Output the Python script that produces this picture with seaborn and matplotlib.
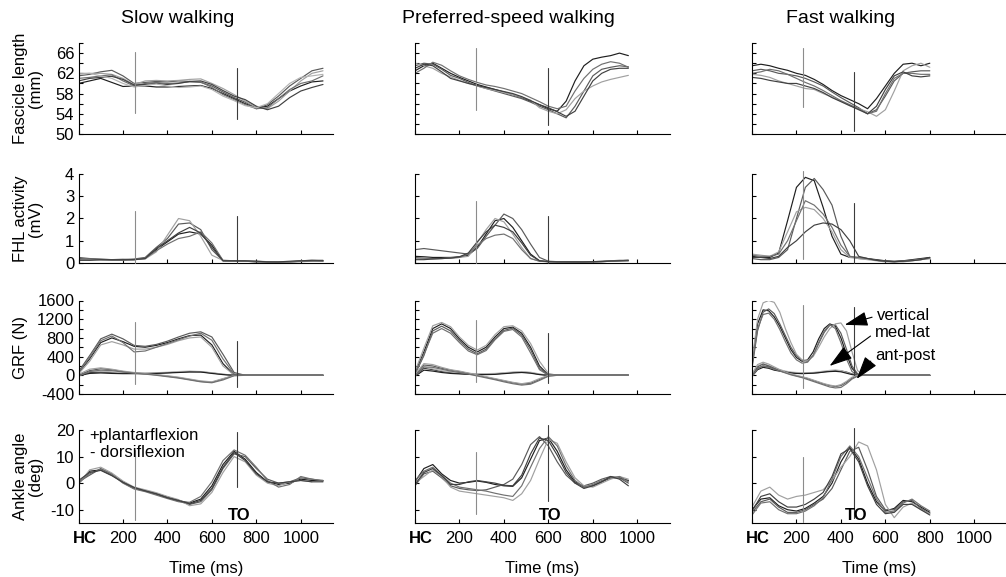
import numpy as np
import pandas as pd
import matplotlib
matplotlib.use("Agg")
import matplotlib.pyplot as plt
from matplotlib.transforms import ScaledTranslation
import seaborn as sns

# ---------------- data ----------------
titles = ["Slow walking", "Preferred-speed walking", "Fast walking"]
row_labels = ["Fascicle length\n(mm)", "FHL activity\n(mV)", "GRF (N)", "Ankle angle\n(deg)"]

x_ticks = [0, 200, 400, 600, 800, 1000]
x_ticklabels = ["HC", "200", "400", "600", "800", "1000"]
y_limits = [(50, 68), (0, 4), (-400, 1600), (-15, 20)]
y_ticks = [[50, 52, 54, 56, 58, 60, 62, 64, 66, 68],
           [0, 1, 2, 3, 4],
           [-400, -200, 0, 200, 400, 600, 800, 1000, 1200, 1400, 1600],
           [-10, 0, 10, 20]]
y_ticklabels = [["50", "", "54", "", "58", "", "62", "", "66", ""],
                ["0", "1", "2", "3", "4"],
                ["-400", "", "0", "", "400", "", "800", "", "1200", "", "1600"],
                ["-10", "0", "10", "20"]]

# gait events (ms): [first line, toe-off]
events = [[252, 714], [274, 597], [230, 460]]
# vertical extents of event lines, per column, per row: [(lo1,hi1),(lo2,hi2)]
event_spans = [
    [[(54.1, 66.2), (52.9, 63.0)], [(0, 2.35), (0, 2.1)], [(-190, 1130), (-240, 740)], [(-13.8, 12.3), (-1.5, 19.4)]],
    [[(54.8, 67.0), (51.8, 63.0)], [(0, 2.8), (0, 2.1)], [(-135, 1185), (-170, 900)], [(-11.8, 11.7), (-6.6, 21.9)]],
    [[(55.4, 67.0), (50.5, 62.2)], [(0.2, 4.15), (0, 2.7)], [(-280, 1500), (0, 1470)], [(-14.8, 10.0), (-13.2, 20.6)]],
]

# ----- slow walking -----
t_slow = [0, 50, 100, 150, 200, 250, 300, 350, 400, 450, 500, 550, 600, 650, 700, 750, 800, 850, 900, 950, 1000, 1050, 1100]
slow_fascicle = [
    [60.0, 60.5, 61.0, 60.2, 59.4, 59.5, 59.5, 59.3, 59.3, 59.4, 59.5, 59.6, 59.0, 58.0, 57.0, 56.0, 55.2, 55.5, 57.0, 58.5, 59.5, 60.3, 60.5],
    [61.5, 61.8, 62.3, 62.6, 61.5, 60.0, 60.2, 60.4, 60.3, 60.5, 60.4, 60.2, 59.5, 58.3, 57.2, 56.3, 55.0, 55.8, 57.5, 59.5, 61.0, 62.5, 63.0],
    [62.0, 62.0, 62.0, 61.8, 61.0, 59.8, 60.5, 60.6, 60.5, 60.6, 60.8, 60.9, 60.0, 59.0, 57.8, 56.5, 55.3, 55.0, 56.5, 58.5, 60.5, 62.0, 62.5],
    [61.0, 61.2, 61.5, 61.7, 60.5, 59.5, 60.0, 60.2, 60.0, 60.1, 60.3, 60.3, 59.2, 57.8, 56.8, 55.8, 55.0, 55.2, 57.0, 58.8, 60.0, 60.5, 61.5],
    [60.5, 61.0, 61.2, 61.4, 60.8, 59.7, 59.8, 60.0, 59.8, 60.0, 60.4, 60.5, 59.8, 58.6, 57.5, 56.8, 55.5, 54.8, 55.5, 57.2, 58.5, 59.2, 59.8],
    [61.8, 62.0, 61.5, 61.0, 60.0, 59.3, 59.6, 59.9, 59.5, 59.2, 59.3, 59.5, 58.8, 57.5, 56.6, 55.6, 55.2, 56.0, 58.0, 60.0, 61.2, 61.5, 61.8],
]
slow_fhl = [
    [0.20, 0.15, 0.15, 0.15, 0.15, 0.15, 0.20, 0.60, 0.95, 1.30, 1.40, 1.30, 0.80, 0.10, 0.10, 0.08, 0.05, 0.05, 0.05, 0.05, 0.08, 0.10, 0.08],
    [0.25, 0.20, 0.18, 0.15, 0.15, 0.18, 0.25, 0.70, 1.10, 1.75, 1.80, 1.50, 0.60, 0.10, 0.08, 0.08, 0.08, 0.06, 0.05, 0.06, 0.10, 0.12, 0.10],
    [0.15, 0.15, 0.15, 0.15, 0.18, 0.15, 0.18, 0.50, 1.25, 2.00, 1.90, 1.20, 0.35, 0.12, 0.10, 0.10, 0.06, 0.05, 0.06, 0.05, 0.08, 0.10, 0.10],
    [0.18, 0.18, 0.15, 0.12, 0.12, 0.15, 0.22, 0.55, 0.85, 1.10, 1.20, 1.40, 0.90, 0.12, 0.10, 0.08, 0.06, 0.05, 0.04, 0.05, 0.06, 0.08, 0.10],
    [0.12, 0.12, 0.15, 0.15, 0.15, 0.15, 0.20, 0.65, 1.00, 1.35, 1.60, 1.35, 0.70, 0.10, 0.10, 0.10, 0.08, 0.05, 0.05, 0.08, 0.10, 0.12, 0.12],
]
slow_grf_vertical = [
    [50, 350, 700, 800, 720, 620, 600, 640, 700, 780, 850, 860, 650, 250, 10, 0, 0, 0, 0, 0, 0, 0, 0],
    [80, 420, 780, 880, 780, 640, 620, 660, 730, 820, 900, 930, 820, 450, 60, 0, 0, 0, 0, 0, 0, 0, 0],
    [30, 300, 650, 720, 650, 560, 560, 600, 660, 740, 800, 820, 600, 200, 5, 0, 0, 0, 0, 0, 0, 0, 0],
    [60, 380, 740, 840, 700, 500, 520, 600, 680, 760, 840, 900, 750, 350, 30, 0, 0, 0, 0, 0, 0, 0, 0],
]
slow_grf_medlat = [
    [0, 60, 70, 60, 50, 45, 40, 45, 55, 70, 80, 75, 50, 20, 0, 0, 0, 0, 0, 0, 0, 0, 0],
    [10, 80, 90, 70, 55, 50, 50, 55, 65, 80, 90, 80, 55, 25, 0, 0, 0, 0, 0, 0, 0, 0, 0],
    [-10, 40, 50, 40, 35, 35, 35, 40, 50, 60, 70, 70, 40, 15, 0, 0, 0, 0, 0, 0, 0, 0, 0],
]
slow_grf_antpost = [
    [0, 100, 140, 120, 80, 50, 30, 10, -20, -50, -90, -130, -150, -80, 0, 0, 0, 0, 0, 0, 0, 0, 0],
    [20, 130, 160, 130, 90, 60, 35, 15, -10, -40, -80, -120, -140, -70, -5, 0, 0, 0, 0, 0, 0, 0, 0],
    [-20, 80, 110, 100, 70, 45, 25, 0, -30, -60, -100, -140, -160, -100, -10, 0, 0, 0, 0, 0, 0, 0, 0],
]
slow_ankle = [
    [0.0, 4.5, 5.0, 3.0, 0.5, -1.8, -2.8, -4.0, -5.2, -6.5, -7.5, -6.0, -1.0, 7.0, 12.0, 9.0, 4.0, 0.5, -0.5, 0.0, 1.5, 1.0, 1.0],
    [0.5, 3.0, 5.5, 3.5, 0.2, -2.0, -3.0, -4.2, -5.5, -6.8, -8.0, -7.0, -2.5, 5.5, 11.0, 10.0, 5.5, 1.5, 0.0, 0.5, 2.0, 1.5, 0.8],
    [-0.5, 5.0, 6.0, 3.8, 0.8, -1.5, -2.5, -3.6, -5.0, -6.2, -8.5, -7.8, -3.5, 4.0, 10.0, 8.0, 3.0, 0.0, -1.0, 0.5, 1.0, 0.5, np.nan],
    [0.0, 3.5, 5.2, 3.2, 0.0, -2.2, -3.2, -4.5, -5.8, -7.0, -7.2, -5.0, 0.5, 8.5, 12.5, 10.5, 6.0, 1.0, -1.5, -0.5, 2.5, 1.5, 1.0],
    [1.0, 4.0, 4.8, 2.8, 0.3, -1.6, -2.9, -4.0, -5.5, -6.5, -7.8, -6.5, -2.0, 6.0, 11.5, 8.5, 3.5, 0.5, 0.0, 0.5, 1.0, 0.5, 0.5],
]

# ----- preferred-speed walking -----
t_pref = [0, 40, 80, 120, 160, 200, 240, 280, 320, 360, 400, 440, 480, 520, 560, 600, 640, 680, 720, 760, 800, 840, 880, 920, 960]
pref_fascicle = [
    [62.5, 63.5, 64.0, 63.0, 62.0, 61.2, 60.5, 59.8, 59.3, 58.8, 58.3, 57.8, 57.2, 56.5, 55.8, 55.0, 54.5, 56.5, 60.5, 63.5, 64.8, 65.2, 65.5, 66.0, 65.5],
    [63.5, 64.0, 63.8, 62.8, 61.6, 61.0, 60.2, 59.5, 59.0, 58.5, 58.0, 57.5, 57.0, 56.3, 55.5, 54.8, 54.0, 53.2, 55.5, 58.5, 61.5, 62.8, 63.2, 63.5, 63.3],
    [64.0, 63.5, 63.0, 62.0, 61.3, 60.6, 60.0, 59.5, 59.0, 58.6, 58.2, 57.8, 57.3, 56.7, 55.2, 54.5, 54.0, 54.8, 57.0, 58.5, 59.5, 60.3, 60.8, 61.2, 61.6],
    [62.0, 63.0, 64.2, 63.6, 62.5, 61.5, 60.8, 60.2, 59.7, 59.4, 59.0, 58.5, 58.0, 57.2, 56.4, 55.5, 55.0, 55.5, 58.5, 61.0, 62.8, 63.8, 64.3, 64.0, 63.2],
    [63.0, 63.8, 63.5, 62.3, 61.0, 60.5, 60.0, 59.6, 59.2, 58.8, 58.4, 58.0, 57.4, 56.6, 55.8, 55.2, 54.4, 53.5, 54.5, 57.5, 60.5, 62.0, 62.8, 63.0, 63.0],
]
pref_fhl = [
    [0.30, 0.28, 0.25, 0.25, 0.25, 0.28, 0.35, 0.70, 1.30, 1.90, 2.00, 1.60, 1.00, 0.40, 0.10, 0.06, 0.06, 0.05, 0.05, 0.04, 0.05, 0.06, 0.08, 0.10, 0.12],
    [0.60, 0.65, 0.60, 0.55, 0.50, 0.45, 0.40, 0.65, 1.20, 1.70, 2.20, 2.00, 1.50, 0.85, 0.25, 0.08, 0.06, 0.05, 0.05, 0.05, 0.06, 0.08, 0.10, 0.12, 0.12],
    [0.20, 0.20, 0.18, 0.20, 0.22, 0.25, 0.30, 0.90, 1.50, 2.00, 1.85, 1.30, 0.70, 0.20, 0.08, 0.05, 0.05, 0.04, 0.04, 0.04, 0.05, 0.06, 0.08, 0.10, 0.10],
    [0.25, 0.22, 0.20, 0.20, 0.22, 0.25, 0.40, 0.80, 1.10, 1.25, 1.30, 1.10, 0.60, 0.20, 0.08, 0.06, 0.05, 0.05, 0.04, 0.04, 0.05, 0.06, 0.08, 0.10, 0.12],
    [0.15, 0.15, 0.18, 0.20, 0.22, 0.28, 0.45, 0.95, 1.40, 1.70, 1.60, 1.40, 0.90, 0.35, 0.10, 0.06, 0.05, 0.05, 0.05, 0.05, 0.06, 0.07, 0.09, 0.10, 0.10],
]
pref_grf_vertical = [
    [50, 500, 1000, 1100, 1000, 780, 600, 500, 600, 820, 1000, 1030, 900, 600, 200, 10, 0, 0, 0, 0, 0, 0, 0, 0, 0],
    [20, 420, 950, 1050, 950, 740, 560, 460, 560, 780, 960, 1010, 860, 550, 150, 0, 0, 0, 0, 0, 0, 0, 0, 0, 0],
    [80, 580, 1060, 1130, 1040, 820, 640, 540, 640, 870, 1040, 1060, 950, 680, 300, 40, 0, 0, 0, 0, 0, 0, 0, 0, 0],
    [30, 450, 900, 1000, 900, 700, 520, 440, 530, 760, 940, 980, 820, 480, 120, 0, 0, 0, 0, 0, 0, 0, 0, 0, 0],
]
pref_grf_medlat = [
    [0, 150, 120, 80, 60, 40, 30, 25, 25, 30, 45, 60, 70, 55, 20, 0, 0, 0, 0, 0, 0, 0, 0, 0, 0],
    [20, 180, 140, 100, 70, 50, 40, 35, 35, 40, 55, 70, 80, 65, 30, 0, 0, 0, 0, 0, 0, 0, 0, 0, 0],
    [-20, 110, 90, 60, 40, 30, 20, 15, 15, 20, 35, 50, 60, 45, 15, 0, 0, 0, 0, 0, 0, 0, 0, 0, 0],
]
pref_grf_antpost = [
    [0, 220, 200, 150, 110, 80, 40, 0, -40, -80, -120, -160, -190, -170, -90, -10, 0, 0, 0, 0, 0, 0, 0, 0, 0],
    [20, 250, 230, 170, 120, 90, 50, 10, -30, -70, -110, -150, -180, -150, -70, 0, 0, 0, 0, 0, 0, 0, 0, 0, 0],
    [-20, 180, 170, 130, 90, 60, 25, -15, -55, -95, -140, -180, -210, -190, -110, -20, 0, 0, 0, 0, 0, 0, 0, 0, 0],
]
pref_ankle = [
    [0.5, 5.5, 7.0, 3.5, 1.0, 0.0, 0.3, 0.8, 0.3, -0.5, -1.0, -1.2, 2.0, 9.0, 16.0, 17.0, 12.0, 5.0, 0.5, -1.5, -1.0, 0.5, 2.0, 2.0, 1.0],
    [-1.0, 3.5, 4.5, 2.0, -1.0, -2.0, -2.5, -2.8, -2.5, -1.5, -0.5, 1.5, 7.0, 14.5, 17.5, 14.0, 8.0, 3.0, 0.0, -1.0, 0.0, 1.5, 2.5, 2.0, 0.0],
    [0.0, 2.5, 5.0, 2.5, -1.5, -3.0, -3.5, -4.0, -4.5, -5.0, -5.5, -6.5, -4.0, 1.0, 9.0, 16.5, 15.0, 8.0, 2.0, -1.0, -1.5, 0.0, 1.5, 2.5, 1.5],
    [1.0, 4.5, 6.0, 3.0, 0.0, -1.5, -2.0, -2.5, -3.0, -3.8, -4.5, -5.0, -1.0, 6.0, 13.0, 17.5, 14.0, 6.5, 1.0, -1.5, -0.5, 1.0, 2.0, 2.5, 0.5],
    [-0.5, 4.0, 5.5, 2.8, -0.5, -0.5, 0.5, 1.0, 0.5, 0.0, -0.8, -1.0, 3.0, 11.0, 17.0, 16.0, 10.5, 4.0, 0.0, -2.0, -1.0, 0.5, 2.5, 1.5, -1.0],
]

# ----- fast walking -----
t_fast = [0, 40, 80, 120, 160, 200, 240, 280, 320, 360, 400, 440, 480, 520, 560, 600, 640, 680, 720, 760, 800]
t_fast_grf = [0, 25, 50, 75, 100, 125, 150, 175, 200, 225, 250, 275, 300, 325, 350, 375, 400, 425, 450, 475, 500,
              550, 600, 650, 700, 750, 800]
fast_fascicle = [
    [63.5, 63.8, 63.5, 63.0, 62.6, 62.0, 61.6, 60.8, 59.8, 58.6, 57.6, 56.8, 56.0, 55.0, 57.0, 59.5, 62.0, 63.8, 64.0, 63.5, 64.0],
    [62.5, 62.8, 62.5, 62.0, 61.8, 61.5, 61.0, 60.3, 59.5, 58.3, 57.2, 56.2, 55.2, 54.0, 54.8, 57.5, 60.5, 62.0, 62.3, 62.5, 62.5],
    [61.8, 61.6, 61.2, 60.5, 60.0, 59.5, 59.0, 58.8, 58.0, 57.3, 56.5, 55.6, 55.0, 54.4, 53.5, 54.8, 58.5, 62.5, 63.5, 64.0, 63.2],
    [62.0, 62.3, 62.8, 62.5, 61.8, 61.0, 60.2, 59.5, 58.6, 57.6, 56.6, 55.8, 55.0, 54.0, 54.5, 58.0, 61.0, 62.0, 62.0, 61.8, 61.8],
    [61.2, 61.0, 60.6, 60.3, 60.0, 60.0, 59.5, 59.0, 58.2, 57.2, 56.4, 55.6, 54.8, 54.0, 55.5, 58.8, 61.5, 62.3, 61.5, 61.3, 61.5],
]
fast_fhl = [
    [0.30, 0.25, 0.25, 0.45, 1.90, 3.40, 3.85, 3.70, 2.50, 1.20, 0.40, 0.25, 0.25, 0.20, 0.15, 0.10, 0.08, 0.10, 0.15, 0.20, 0.25],
    [0.20, 0.15, 0.15, 0.25, 0.60, 2.00, 3.40, 3.80, 3.30, 2.60, 1.20, 0.30, 0.20, 0.18, 0.12, 0.08, 0.05, 0.10, 0.12, 0.18, 0.20],
    [0.40, 0.35, 0.30, 0.50, 1.40, 2.30, 2.50, 2.40, 2.00, 1.40, 0.60, 0.25, 0.20, 0.15, 0.10, 0.05, 0.05, 0.05, 0.10, 0.15, 0.20],
    [0.35, 0.30, 0.30, 0.40, 1.00, 1.90, 2.80, 2.60, 2.20, 1.60, 0.80, 0.30, 0.25, 0.20, 0.12, 0.08, 0.06, 0.08, 0.12, 0.15, 0.22],
    [0.25, 0.25, 0.20, 0.30, 0.70, 1.00, 1.40, 1.70, 1.80, 1.75, 1.50, 1.00, 0.30, 0.20, 0.12, 0.08, 0.06, 0.08, 0.10, 0.15, 0.25],
]
fast_grf_vertical = [
    [250, 1100, 1400, 1380, 1250, 1050, 800, 550, 380, 300, 330, 500, 780, 1000, 1100, 1050, 800, 450, 150, 20, 0, 0, 0, 0, 0, 0, 0],
    [150, 950, 1350, 1420, 1320, 1100, 850, 600, 420, 320, 300, 420, 680, 920, 1070, 1080, 900, 560, 200, 30, 0, 0, 0, 0, 0, 0, 0],
    [300, 1200, 1550, 1600, 1560, 1350, 1000, 700, 450, 330, 320, 400, 600, 820, 1000, 1100, 1120, 950, 500, 100, 10, 0, 0, 0, 0, 0, 0],
    [200, 1000, 1300, 1330, 1200, 980, 720, 480, 330, 260, 280, 430, 700, 950, 1080, 1000, 700, 350, 80, 10, 0, 0, 0, 0, 0, 0, 0],
]
fast_grf_medlat = [
    [0, 150, 200, 180, 140, 110, 80, 60, 50, 45, 45, 50, 60, 75, 90, 100, 95, 70, 30, 5, 0, 0, 0, 0, 0, 0, 0],
    [20, 200, 250, 210, 160, 120, 90, 70, 60, 55, 55, 60, 75, 90, 105, 115, 100, 60, 20, 0, 0, 0, 0, 0, 0, 0, 0],
    [-20, 120, 170, 150, 110, 90, 70, 50, 40, 35, 40, 45, 55, 70, 80, 85, 75, 45, 15, 0, 0, 0, 0, 0, 0, 0, 0],
]
fast_grf_antpost = [
    [0, 180, 240, 200, 150, 100, 60, 20, -10, -40, -70, -110, -150, -190, -220, -240, -220, -150, -60, -10, 0, 0, 0, 0, 0, 0, 0],
    [30, 230, 280, 240, 180, 120, 70, 30, 0, -30, -60, -100, -140, -180, -210, -230, -200, -130, -40, 0, 0, 0, 0, 0, 0, 0, 0],
    [-30, 140, 200, 170, 130, 90, 50, 10, -20, -50, -90, -130, -170, -210, -250, -270, -260, -180, -80, -20, 0, 0, 0, 0, 0, 0, 0],
]
fast_ankle = [
    [-10.0, -6.0, -5.5, -8.5, -10.0, -10.5, -9.5, -7.5, -5.0, 0.0, 8.0, 13.5, 9.0, 0.0, -7.0, -10.5, -9.5, -6.5, -7.0, -9.0, -11.0],
    [-11.0, -7.0, -6.0, -9.0, -11.0, -11.0, -10.0, -8.0, -6.0, -2.0, 5.0, 12.0, 13.5, 5.0, -5.0, -10.0, -10.0, -7.0, -6.5, -9.5, -11.5],
    [-9.0, -3.0, -1.5, -4.5, -6.0, -5.0, -4.5, -3.5, -2.5, 1.0, 6.0, 10.0, 15.5, 14.0, 5.0, -8.0, -13.0, -9.0, -7.5, -10.0, -11.5],
    [-12.0, -7.5, -7.0, -10.0, -11.5, -11.5, -10.5, -8.5, -5.5, 1.5, 10.0, 14.0, 10.0, 2.0, -6.0, -11.0, -10.5, -7.5, -6.0, -8.5, -10.5],
    [-10.5, -5.0, -4.0, -7.0, -9.0, -9.0, -8.0, -6.0, -3.5, 2.5, 11.0, 13.0, 8.0, -1.0, -8.0, -11.5, -11.0, -8.0, -8.0, -10.0, -12.0],
]

# ---------------- styling ----------------
grays = ["#1e1e1e", "#5a5a5a", "#a0a0a0", "#707070", "#404040", "#b4b4b4"]
W, H = 1006, 577
col_left_px = [78.5, 415.0, 752.0]
col_width_px = 254.5
row_px = [(43, 134), (174, 263), (300.5, 394), (430, 523)]
X_MAX = 1145

sns.set_style("ticks", {"xtick.direction": "in", "ytick.direction": "in"})
plt.rcParams["font.family"] = ["Liberation Sans", "DejaVu Sans"]
plt.rcParams["axes.linewidth"] = 0.8
for key in ["text.color", "axes.labelcolor", "xtick.color", "ytick.color", "axes.edgecolor"]:
    plt.rcParams[key] = "black"

fig = plt.figure(figsize=(W / 100, H / 100), dpi=100)


def draw_traces(ax, t, traces):
    frames = []
    for i, tr in enumerate(traces):
        frames.append(pd.DataFrame({"t": t, "v": tr, "trial": f"trial{i:02d}"}))
    df = pd.concat(frames, ignore_index=True).dropna()
    pal = [grays[i % len(grays)] for i in range(len(traces))]
    sns.lineplot(data=df, x="t", y="v", hue="trial", palette=pal, estimator=None,
                 sort=False, legend=False, linewidth=0.85, ax=ax)


panels = [
    [(t_slow, slow_fascicle), (t_slow, slow_fhl),
     (t_slow, slow_grf_vertical + slow_grf_medlat + slow_grf_antpost), (t_slow, slow_ankle)],
    [(t_pref, pref_fascicle), (t_pref, pref_fhl),
     (t_pref, pref_grf_vertical + pref_grf_medlat + pref_grf_antpost), (t_pref, pref_ankle)],
    [(t_fast, fast_fascicle), (t_fast, fast_fhl),
     (t_fast_grf, fast_grf_vertical + fast_grf_medlat + fast_grf_antpost), (t_fast, fast_ankle)],
]

axes = [[None] * 4 for _ in range(3)]
for c in range(3):
    for r in range(4):
        top, bot = row_px[r]
        ax = fig.add_axes([col_left_px[c] / W, 1 - bot / H, col_width_px / W, (bot - top) / H])
        axes[c][r] = ax
        t, traces = panels[c][r]
        draw_traces(ax, t, traces)

        # event lines
        for k, (ev, col) in enumerate(zip(events[c], ["#8c8c8c", "#3c3c3c"])):
            lo, hi = event_spans[c][r][k]
            ax.plot([ev, ev], [lo, hi], color=col, lw=0.8, clip_on=False, zorder=3)

        ax.set_xlim(0, X_MAX)
        ax.set_ylim(*y_limits[r])
        ax.set_xticks(x_ticks)
        ax.set_yticks(y_ticks[r])
        ax.spines[["top", "right"]].set_visible(False)
        for s in ["left", "bottom"]:
            ax.spines[s].set_color("black")
            ax.spines[s].set_linewidth(0.8)
        ax.tick_params(axis="both", direction="in", length=3, width=0.8, colors="black", labelsize=12)
        ax.tick_params(axis="x", pad=5.5)
        ax.tick_params(axis="y", pad=3)
        ax.set_xlabel("")
        ax.set_ylabel("")

        if c == 0:
            ax.set_yticklabels(y_ticklabels[r])
            ax.set_ylabel(row_labels[r], fontsize=12, linespacing=1.0)
            right_px = 28 if r == 2 else 43
            ax.yaxis.set_label_coords((right_px - col_left_px[0]) / col_width_px, 0.5)
        else:
            ax.set_yticklabels([])

        if r == 3:
            ax.set_xticklabels(x_ticklabels)
            hc = ax.get_xticklabels()[0]
            hc.set_fontweight("bold")
            hc.set_transform(hc.get_transform() + ScaledTranslation(0.06, 0, fig.dpi_scale_trans))
            ax.set_xlabel("Time (ms)", fontsize=12)
            ax.xaxis.set_label_coords(0.5, -(561 - 523) / (523 - 430))
            ax.text(events[c][1] + 10, -12, "TO", fontsize=12, fontweight="bold",
                    ha="center", va="center")
        else:
            ax.set_xticklabels([])

# ankle sign convention
axes[0][3].text(50, 18.1, "+plantarflexion", fontsize=12, ha="left", va="center")
axes[0][3].text(50, 11.7, "- dorsiflexion", fontsize=12, ha="left", va="center")

# GRF component labels (fast walking)
arrow = dict(arrowstyle="-|>,head_length=0.8,head_width=0.25", color="black", lw=0.8,
             shrinkA=1, shrinkB=0, relpos=(0, 0.5), mutation_scale=18)
gax = axes[2][2]
gax.annotate("vertical", xy=(417, 1080), xytext=(561, 1270), fontsize=12, ha="left", va="center",
             arrowprops=arrow, annotation_clip=False)
gax.annotate("med-lat", xy=(349, 200), xytext=(553, 908), fontsize=12, ha="left", va="center",
             arrowprops=arrow, annotation_clip=False)
gax.annotate("ant-post", xy=(471, -77), xytext=(553, 416), fontsize=12, ha="left", va="center",
             arrowprops=arrow, annotation_clip=False)

# column titles
for x_px, title in zip([178, 508, 841], titles):
    fig.text(x_px / W, 1 - 18.5 / H, title, fontsize=14, ha="center", va="center")

fig.savefig("out.png", dpi=100)
